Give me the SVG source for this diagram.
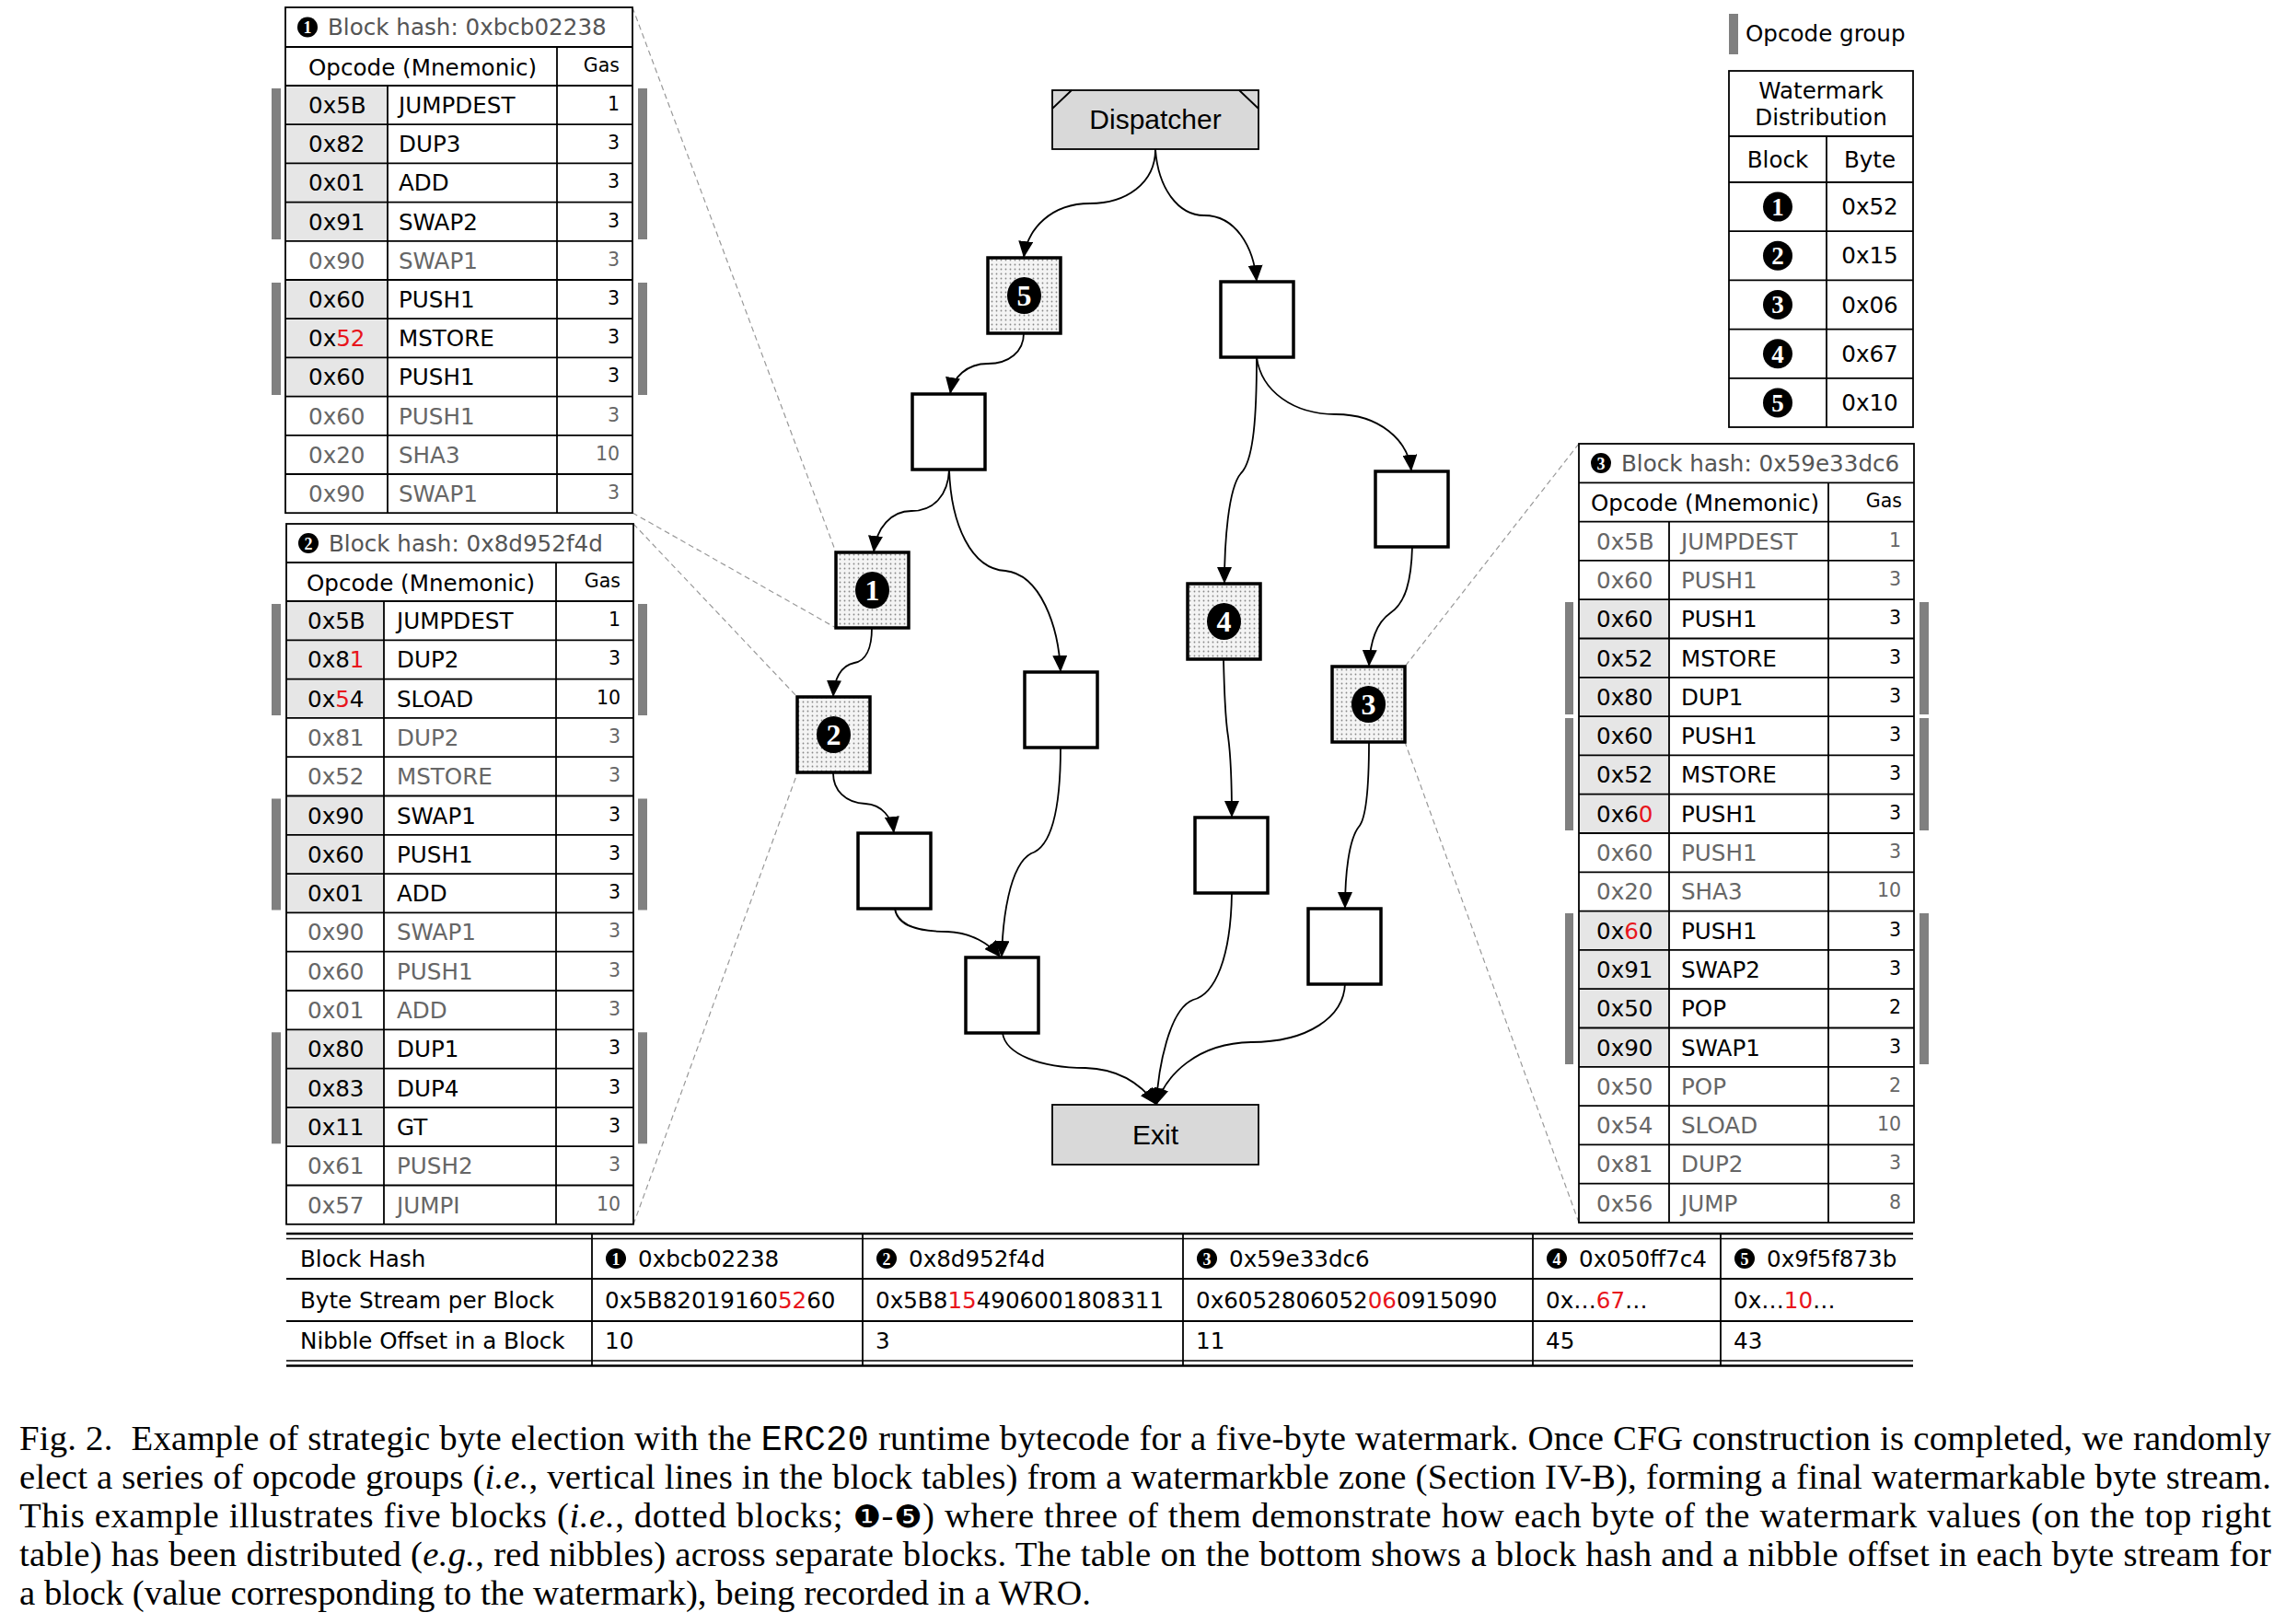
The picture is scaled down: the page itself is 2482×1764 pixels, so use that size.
<svg xmlns="http://www.w3.org/2000/svg" width="2482" height="1764" viewBox="0 0 2482 1764">
<style>
.tx{font-family:"DejaVu Sans",Verdana,sans-serif;font-size:24.6px;fill:#000}
.lt{fill:#666}
.gs{font-size:20.5px;text-anchor:end}
.rd{fill:#e8141b}
.ttl{fill:#555}
.ln{fill:none;stroke:#000;stroke-width:1.8}
.gc{fill:#e6e6e6}
.bar{fill:#808080}
.num{font-family:"Liberation Serif","Times New Roman",serif;font-weight:bold;fill:#fff;text-anchor:middle}
.blk{fill:#000}
.node{fill:#fff;stroke:#000;stroke-width:3.5}
.dnode{fill:url(#dots);stroke:#000;stroke-width:3.5}
.term{fill:#d9d9d9;stroke:#000;stroke-width:1.8}
.lbl{font-family:"Liberation Sans",Arial,sans-serif;font-size:30px;fill:#000;text-anchor:middle}
.edge{fill:none;stroke:#000;stroke-width:1.8;marker-end:url(#ah)}
.zoom{fill:none;stroke:#999;stroke-width:1.2;stroke-dasharray:6 4}
.cap{font-family:"Liberation Serif","Times New Roman",serif;font-size:38.8px;fill:#000}
.mono{font-family:"Liberation Mono","Courier New",monospace}
.it{font-style:italic}
.dg{font-family:"DejaVu Sans",sans-serif;font-size:34px}
.mid{text-anchor:middle}
</style>
<defs>
<pattern id="dots" width="5" height="5" patternUnits="userSpaceOnUse"><rect width="5" height="5" fill="#f4f4f4"/><circle cx="2.5" cy="2.5" r="0.9" fill="#888"/></pattern>
<marker id="ah" markerWidth="18" markerHeight="16" refX="18" refY="8" orient="auto" markerUnits="userSpaceOnUse"><path d="M0,0 L18,8 L0,16 z" fill="#000"/></marker>
</defs>
<rect width="2482" height="1764" fill="#fff"/>

<!-- Connectors -->
<g id="connectors">
<path class="zoom" d="M687,8 L908,600"/>
<path class="zoom" d="M687,557 L908,682"/>
<path class="zoom" d="M688,569 L866,757"/>
<path class="zoom" d="M688,1330 L866,840"/>
<path class="zoom" d="M1715,482 L1526,724"/>
<path class="zoom" d="M1715,1328 L1526,806"/>
<path class="edge" d="M1255,162 C1255,200 1222,221 1184,221 C1142,221 1116,248 1112,280"/>
<path class="edge" d="M1255,162 C1258,205 1280,234 1308,234 C1342,234 1362,268 1365,306"/>
<path class="edge" d="M1112,362 C1112,382 1096,395 1073,395 C1050,395 1035,410 1032,428"/>
<path class="edge" d="M1365,388 C1365,450 1362,500 1348,514 C1334,530 1330,590 1330,634"/>
<path class="edge" d="M1365,388 C1370,425 1405,450 1451,450 C1498,450 1530,478 1533,512"/>
<path class="edge" d="M1031,510 C1030,538 1014,555 990,555 C968,555 952,573 949,600"/>
<path class="edge" d="M1031,510 C1033,570 1055,618 1092,620 C1130,624 1150,680 1152,730"/>
<path class="edge" d="M1534,594 C1533,630 1527,655 1510,666 C1493,678 1488,700 1487,724"/>
<path class="edge" d="M947,682 C947,705 940,718 928,720 C913,723 906,738 905,757"/>
<path class="edge" d="M905,840 C905,858 918,872 940,873 C958,874 969,888 971,905"/>
<path class="edge" d="M1152,812 C1152,880 1142,920 1120,927 C1096,940 1089,1000 1088,1040"/>
<path class="edge" d="M972,987 C975,1005 995,1012 1029,1012 C1055,1013 1075,1025 1087,1040"/>
<path class="edge" d="M1329,716 C1330,760 1332,788 1334,800 C1337,822 1338,860 1338,888"/>
<path class="edge" d="M1487,806 C1487,850 1485,888 1476,898 C1465,912 1461,950 1461,987"/>
<path class="edge" d="M1338,970 C1337,1040 1320,1080 1296,1086 C1270,1096 1258,1160 1256,1200"/>
<path class="edge" d="M1461,1068 C1460,1105 1420,1132 1359,1132 C1300,1133 1266,1168 1256,1200"/>
<path class="edge" d="M1089,1122 C1092,1145 1130,1160 1179,1160 C1215,1161 1240,1178 1256,1200"/>
</g>

<!-- CFG nodes -->
<g id="dispatcher">
<rect class="term" x="1143" y="98" width="224" height="64"/>
<path class="ln" d="M1143,118 L1164,98 M1346,98 L1367,118"/>
<text class="lbl" x="1255" y="140">Dispatcher</text>
</g>
<g id="exit">
<rect class="term" x="1143" y="1200" width="224" height="65"/>
<text class="lbl" x="1255" y="1243">Exit</text>
</g>
<g id="node5"><rect class="dnode" x="1073" y="280" width="79" height="82"/><ellipse class="blk" cx="1112.5" cy="321" rx="18.5" ry="20"/><text class="num" x="1112.5" y="332" font-size="32">5</text></g>
<g id="nodeTR"><rect class="node" x="1326" y="306" width="79" height="82"/></g>
<g id="nodeA"><rect class="node" x="991" y="428" width="79" height="82"/></g>
<g id="node1"><rect class="dnode" x="908" y="600" width="79" height="82"/><ellipse class="blk" cx="947.5" cy="641" rx="18.5" ry="20"/><text class="num" x="947.5" y="652" font-size="32">1</text></g>
<g id="nodeR"><rect class="node" x="1494" y="512" width="79" height="82"/></g>
<g id="node4"><rect class="dnode" x="1290" y="634" width="79" height="82"/><ellipse class="blk" cx="1329.5" cy="675" rx="18.5" ry="20"/><text class="num" x="1329.5" y="686" font-size="32">4</text></g>
<g id="node2"><rect class="dnode" x="866" y="757" width="79" height="82"/><ellipse class="blk" cx="905.5" cy="798" rx="18.5" ry="20"/><text class="num" x="905.5" y="809" font-size="32">2</text></g>
<g id="nodeB"><rect class="node" x="1113" y="730" width="79" height="82"/></g>
<g id="node3"><rect class="dnode" x="1447" y="724" width="79" height="82"/><ellipse class="blk" cx="1486.5" cy="765" rx="18.5" ry="20"/><text class="num" x="1486.5" y="776" font-size="32">3</text></g>
<g id="nodeC"><rect class="node" x="932" y="905" width="79" height="82"/></g>
<g id="nodeD"><rect class="node" x="1298" y="888" width="79" height="82"/></g>
<g id="nodeE"><rect class="node" x="1421" y="987" width="79" height="82"/></g>
<g id="nodeF"><rect class="node" x="1049" y="1040" width="79" height="82"/></g>

<!-- Table 1 -->
<g id="table1">
<rect class="gc" x="310" y="93" width="111" height="168.8"/>
<rect class="gc" x="310" y="304" width="111" height="126.6"/>
<rect class="bar" x="295" y="96" width="10" height="164"/>
<rect class="bar" x="693" y="96" width="10" height="164"/>
<rect class="bar" x="295" y="307" width="10" height="122"/>
<rect class="bar" x="693" y="307" width="10" height="122"/>
<rect class="ln" x="310" y="8" width="377" height="549.2"/>
<path class="ln" d="M310,51H687M310,93H687M310,135.2H687M310,177.4H687M310,219.6H687M310,261.8H687M310,304H687M310,346.2H687M310,388.4H687M310,430.6H687M310,472.8H687M310,515H687M605,51V557.2M421,93V557.2"/>
<circle class="blk" cx="334" cy="29.5" r="11"/><text class="num" x="334" y="36" font-size="18">1</text>
<text class="tx ttl" x="356" y="38">Block hash: 0xbcb02238</text>
<text class="tx" x="335" y="82">Opcode (Mnemonic)</text>
<text class="tx gs" x="673" y="78">Gas</text>
<text class="tx" y="123"><tspan x="335">0x5B</tspan><tspan x="433">JUMPDEST</tspan></text><text class="tx gs" x="673" y="120">1</text>
<text class="tx" y="165.2"><tspan x="335">0x82</tspan><tspan x="433">DUP3</tspan></text><text class="tx gs" x="673" y="162.2">3</text>
<text class="tx" y="207.4"><tspan x="335">0x01</tspan><tspan x="433">ADD</tspan></text><text class="tx gs" x="673" y="204.4">3</text>
<text class="tx" y="249.6"><tspan x="335">0x91</tspan><tspan x="433">SWAP2</tspan></text><text class="tx gs" x="673" y="246.6">3</text>
<text class="tx lt" y="291.8"><tspan x="335">0x90</tspan><tspan x="433">SWAP1</tspan></text><text class="tx gs lt" x="673" y="288.8">3</text>
<text class="tx" y="334"><tspan x="335">0x60</tspan><tspan x="433">PUSH1</tspan></text><text class="tx gs" x="673" y="331">3</text>
<text class="tx" y="376.2"><tspan x="335">0x<tspan class="rd">52</tspan></tspan><tspan x="433">MSTORE</tspan></text><text class="tx gs" x="673" y="373.2">3</text>
<text class="tx" y="418.4"><tspan x="335">0x60</tspan><tspan x="433">PUSH1</tspan></text><text class="tx gs" x="673" y="415.4">3</text>
<text class="tx lt" y="460.6"><tspan x="335">0x60</tspan><tspan x="433">PUSH1</tspan></text><text class="tx gs lt" x="673" y="457.6">3</text>
<text class="tx lt" y="502.8"><tspan x="335">0x20</tspan><tspan x="433">SHA3</tspan></text><text class="tx gs lt" x="673" y="499.8">10</text>
<text class="tx lt" y="545"><tspan x="335">0x90</tspan><tspan x="433">SWAP1</tspan></text><text class="tx gs lt" x="673" y="542">3</text>
</g>

<!-- Table 2 -->
<g id="table2">
<rect class="gc" x="311" y="653" width="106" height="126.9"/>
<rect class="gc" x="311" y="864.5" width="106" height="126.9"/>
<rect class="gc" x="311" y="1118.3" width="106" height="126.9"/>
<rect class="bar" x="295" y="656" width="10" height="121"/>
<rect class="bar" x="693" y="656" width="10" height="121"/>
<rect class="bar" x="295" y="867.5" width="10" height="121"/>
<rect class="bar" x="693" y="867.5" width="10" height="121"/>
<rect class="bar" x="295" y="1121.3" width="10" height="121"/>
<rect class="bar" x="693" y="1121.3" width="10" height="121"/>
<rect class="ln" x="311" y="569" width="377" height="760.8"/>
<path class="ln" d="M311,611H688M311,653H688M311,695.3H688M311,737.6H688M311,779.9H688M311,822.2H688M311,864.5H688M311,906.8H688M311,949.1H688M311,991.4H688M311,1033.7H688M311,1076H688M311,1118.3H688M311,1160.6H688M311,1202.9H688M311,1245.2H688M311,1287.5H688M604,611V1329.8M417,653V1329.8"/>
<circle class="blk" cx="335" cy="590" r="11"/><text class="num" x="335" y="596.5" font-size="18">2</text>
<text class="tx ttl" x="357" y="599">Block hash: 0x8d952f4d</text>
<text class="tx" x="333" y="642">Opcode (Mnemonic)</text>
<text class="tx gs" x="674" y="638">Gas</text>
<text class="tx" y="683"><tspan x="334">0x5B</tspan><tspan x="431">JUMPDEST</tspan></text><text class="tx gs" x="674" y="680">1</text>
<text class="tx" y="725.3"><tspan x="334">0x8<tspan class="rd">1</tspan></tspan><tspan x="431">DUP2</tspan></text><text class="tx gs" x="674" y="722.3">3</text>
<text class="tx" y="767.6"><tspan x="334">0x<tspan class="rd">5</tspan>4</tspan><tspan x="431">SLOAD</tspan></text><text class="tx gs" x="674" y="764.6">10</text>
<text class="tx lt" y="809.9"><tspan x="334">0x81</tspan><tspan x="431">DUP2</tspan></text><text class="tx gs lt" x="674" y="806.9">3</text>
<text class="tx lt" y="852.2"><tspan x="334">0x52</tspan><tspan x="431">MSTORE</tspan></text><text class="tx gs lt" x="674" y="849.2">3</text>
<text class="tx" y="894.5"><tspan x="334">0x90</tspan><tspan x="431">SWAP1</tspan></text><text class="tx gs" x="674" y="891.5">3</text>
<text class="tx" y="936.8"><tspan x="334">0x60</tspan><tspan x="431">PUSH1</tspan></text><text class="tx gs" x="674" y="933.8">3</text>
<text class="tx" y="979.1"><tspan x="334">0x01</tspan><tspan x="431">ADD</tspan></text><text class="tx gs" x="674" y="976.1">3</text>
<text class="tx lt" y="1021.4"><tspan x="334">0x90</tspan><tspan x="431">SWAP1</tspan></text><text class="tx gs lt" x="674" y="1018.4">3</text>
<text class="tx lt" y="1063.7"><tspan x="334">0x60</tspan><tspan x="431">PUSH1</tspan></text><text class="tx gs lt" x="674" y="1060.7">3</text>
<text class="tx lt" y="1106"><tspan x="334">0x01</tspan><tspan x="431">ADD</tspan></text><text class="tx gs lt" x="674" y="1103">3</text>
<text class="tx" y="1148.3"><tspan x="334">0x80</tspan><tspan x="431">DUP1</tspan></text><text class="tx gs" x="674" y="1145.3">3</text>
<text class="tx" y="1190.6"><tspan x="334">0x83</tspan><tspan x="431">DUP4</tspan></text><text class="tx gs" x="674" y="1187.6">3</text>
<text class="tx" y="1232.9"><tspan x="334">0x11</tspan><tspan x="431">GT</tspan></text><text class="tx gs" x="674" y="1229.9">3</text>
<text class="tx lt" y="1275.2"><tspan x="334">0x61</tspan><tspan x="431">PUSH2</tspan></text><text class="tx gs lt" x="674" y="1272.2">3</text>
<text class="tx lt" y="1317.5"><tspan x="334">0x57</tspan><tspan x="431">JUMPI</tspan></text><text class="tx gs lt" x="674" y="1314.5">10</text>
</g>

<!-- Table 3 -->
<g id="table3">
<rect class="gc" x="1715" y="651.2" width="98" height="253.8"/>
<rect class="gc" x="1715" y="989.6" width="98" height="169.2"/>
<rect class="bar" x="1700" y="654" width="9" height="122"/>
<rect class="bar" x="2085" y="654" width="10" height="122"/>
<rect class="bar" x="1700" y="780" width="9" height="122"/>
<rect class="bar" x="2085" y="780" width="10" height="122"/>
<rect class="bar" x="1700" y="992" width="9" height="164"/>
<rect class="bar" x="2085" y="992" width="10" height="164"/>
<rect class="ln" x="1715" y="482" width="364" height="846"/>
<path class="ln" d="M1715,524.4H2079M1715,566.6H2079M1715,608.9H2079M1715,651.2H2079M1715,693.5H2079M1715,735.8H2079M1715,778.1H2079M1715,820.4H2079M1715,862.7H2079M1715,905H2079M1715,947.3H2079M1715,989.6H2079M1715,1031.9H2079M1715,1074.2H2079M1715,1116.5H2079M1715,1158.8H2079M1715,1201.1H2079M1715,1243.4H2079M1715,1285.7H2079M1986,524.4V1328M1813,566.6V1328"/>
<circle class="blk" cx="1739" cy="503" r="11"/><text class="num" x="1739" y="509.5" font-size="18">3</text>
<text class="tx ttl" x="1761" y="512">Block hash: 0x59e33dc6</text>
<text class="tx" x="1728" y="555">Opcode (Mnemonic)</text>
<text class="tx gs" x="2066" y="551">Gas</text>
<text class="tx lt" y="596.6"><tspan x="1734">0x5B</tspan><tspan x="1826">JUMPDEST</tspan></text><text class="tx gs lt" x="2065" y="593.6">1</text>
<text class="tx lt" y="638.9"><tspan x="1734">0x60</tspan><tspan x="1826">PUSH1</tspan></text><text class="tx gs lt" x="2065" y="635.9">3</text>
<text class="tx" y="681.2"><tspan x="1734">0x60</tspan><tspan x="1826">PUSH1</tspan></text><text class="tx gs" x="2065" y="678.2">3</text>
<text class="tx" y="723.5"><tspan x="1734">0x52</tspan><tspan x="1826">MSTORE</tspan></text><text class="tx gs" x="2065" y="720.5">3</text>
<text class="tx" y="765.8"><tspan x="1734">0x80</tspan><tspan x="1826">DUP1</tspan></text><text class="tx gs" x="2065" y="762.8">3</text>
<text class="tx" y="808.1"><tspan x="1734">0x60</tspan><tspan x="1826">PUSH1</tspan></text><text class="tx gs" x="2065" y="805.1">3</text>
<text class="tx" y="850.4"><tspan x="1734">0x52</tspan><tspan x="1826">MSTORE</tspan></text><text class="tx gs" x="2065" y="847.4">3</text>
<text class="tx" y="892.7"><tspan x="1734">0x6<tspan class="rd">0</tspan></tspan><tspan x="1826">PUSH1</tspan></text><text class="tx gs" x="2065" y="889.7">3</text>
<text class="tx lt" y="935"><tspan x="1734">0x60</tspan><tspan x="1826">PUSH1</tspan></text><text class="tx gs lt" x="2065" y="932">3</text>
<text class="tx lt" y="977.3"><tspan x="1734">0x20</tspan><tspan x="1826">SHA3</tspan></text><text class="tx gs lt" x="2065" y="974.3">10</text>
<text class="tx" y="1019.6"><tspan x="1734">0x<tspan class="rd">6</tspan>0</tspan><tspan x="1826">PUSH1</tspan></text><text class="tx gs" x="2065" y="1016.6">3</text>
<text class="tx" y="1061.9"><tspan x="1734">0x91</tspan><tspan x="1826">SWAP2</tspan></text><text class="tx gs" x="2065" y="1058.9">3</text>
<text class="tx" y="1104.2"><tspan x="1734">0x50</tspan><tspan x="1826">POP</tspan></text><text class="tx gs" x="2065" y="1101.2">2</text>
<text class="tx" y="1146.5"><tspan x="1734">0x90</tspan><tspan x="1826">SWAP1</tspan></text><text class="tx gs" x="2065" y="1143.5">3</text>
<text class="tx lt" y="1188.8"><tspan x="1734">0x50</tspan><tspan x="1826">POP</tspan></text><text class="tx gs lt" x="2065" y="1185.8">2</text>
<text class="tx lt" y="1231.1"><tspan x="1734">0x54</tspan><tspan x="1826">SLOAD</tspan></text><text class="tx gs lt" x="2065" y="1228.1">10</text>
<text class="tx lt" y="1273.4"><tspan x="1734">0x81</tspan><tspan x="1826">DUP2</tspan></text><text class="tx gs lt" x="2065" y="1270.4">3</text>
<text class="tx lt" y="1315.7"><tspan x="1734">0x56</tspan><tspan x="1826">JUMP</tspan></text><text class="tx gs lt" x="2065" y="1312.7">8</text>
</g>

<!-- Legend -->
<g id="legend">
<rect class="bar" x="1878" y="15" width="10" height="44"/>
<text class="tx" x="1896" y="45">Opcode group</text>
</g>

<!-- Watermark distribution table -->
<g id="watermark-table">
<rect class="ln" x="1878" y="77" width="200" height="387"/>
<path class="ln" d="M1878,148H2078M1878,198H2078M1878,251.2H2078M1878,304.4H2078M1878,357.6H2078M1878,410.8H2078M1984,148V464"/>
<text class="tx mid" x="1978" y="107">Watermark</text>
<text class="tx mid" x="1978" y="136">Distribution</text>
<text class="tx mid" x="1931" y="182">Block</text>
<text class="tx mid" x="2031" y="182">Byte</text>
<circle class="blk" cx="1931" cy="224.6" r="16"/><text class="num" x="1931" y="234" font-size="27">1</text>
<circle class="blk" cx="1931" cy="277.8" r="16"/><text class="num" x="1931" y="287.2" font-size="27">2</text>
<circle class="blk" cx="1931" cy="331" r="16"/><text class="num" x="1931" y="340.4" font-size="27">3</text>
<circle class="blk" cx="1931" cy="384.2" r="16"/><text class="num" x="1931" y="393.6" font-size="27">4</text>
<circle class="blk" cx="1931" cy="437.4" r="16"/><text class="num" x="1931" y="446.8" font-size="27">5</text>
<text class="tx mid" x="2031" y="233.1">0x52</text>
<text class="tx mid" x="2031" y="286.3">0x15</text>
<text class="tx mid" x="2031" y="339.5">0x06</text>
<text class="tx mid" x="2031" y="392.7">0x67</text>
<text class="tx mid" x="2031" y="445.9">0x10</text>
</g>

<!-- Bottom table -->
<g id="bottom-table">
<path fill="none" stroke="#000" stroke-width="2.6" d="M311,1340H2078M311,1483.5H2078"/>
<path fill="none" stroke="#000" stroke-width="1.5" d="M311,1345.5H2078M311,1478H2078"/>
<path class="ln" d="M311,1389H2078M311,1435H2078M643,1340V1483.5M937,1340V1483.5M1285,1340V1483.5M1665,1340V1483.5M1869,1340V1483.5"/>
<text class="tx" x="326" y="1376">Block Hash</text>
<text class="tx" x="326" y="1421">Byte Stream per Block</text>
<text class="tx" x="326" y="1465">Nibble Offset in a Block</text>
<circle class="blk" cx="669" cy="1367" r="11"/><text class="num" x="669" y="1373.5" font-size="18">1</text>
<text class="tx" x="693" y="1376">0xbcb02238</text>
<circle class="blk" cx="963" cy="1367" r="11"/><text class="num" x="963" y="1373.5" font-size="18">2</text>
<text class="tx" x="987" y="1376">0x8d952f4d</text>
<circle class="blk" cx="1311" cy="1367" r="11"/><text class="num" x="1311" y="1373.5" font-size="18">3</text>
<text class="tx" x="1335" y="1376">0x59e33dc6</text>
<circle class="blk" cx="1691" cy="1367" r="11"/><text class="num" x="1691" y="1373.5" font-size="18">4</text>
<text class="tx" x="1715" y="1376">0x050ff7c4</text>
<circle class="blk" cx="1895" cy="1367" r="11"/><text class="num" x="1895" y="1373.5" font-size="18">5</text>
<text class="tx" x="1919" y="1376">0x9f5f873b</text>
<text class="tx" x="657" y="1421">0x5B82019160<tspan class="rd">52</tspan>60</text>
<text class="tx" x="951" y="1421">0x5B8<tspan class="rd">15</tspan>4906001808311</text>
<text class="tx" x="1299" y="1421">0x6052806052<tspan class="rd">06</tspan>0915090</text>
<text class="tx" x="1679" y="1421">0x…<tspan class="rd">67</tspan>…</text>
<text class="tx" x="1883" y="1421">0x…<tspan class="rd">10</tspan>…</text>
<text class="tx" x="657" y="1465">10</text>
<text class="tx" x="951" y="1465">3</text>
<text class="tx" x="1299" y="1465">11</text>
<text class="tx" x="1679" y="1465">45</text>
<text class="tx" x="1883" y="1465">43</text>
</g>

<!-- Caption -->
<g id="caption">
<text class="cap" x="21" y="1575" textLength="2446" lengthAdjust="spacing">Fig. 2. <tspan dx="10">Example</tspan> of strategic byte election with the <tspan class="mono">ERC20</tspan> runtime bytecode for a five-byte watermark. Once CFG construction is completed, we randomly</text>
<text class="cap" x="21" y="1617" textLength="2446" lengthAdjust="spacing">elect a series of opcode groups (<tspan class="it">i.e.</tspan>, vertical lines in the block tables) from a watermarkble zone (Section IV-B), forming a final watermarkable byte stream.</text>
<text class="cap" x="21" y="1659" textLength="2446" lengthAdjust="spacing">This example illustrates five blocks (<tspan class="it">i.e.</tspan>, dotted blocks; <tspan class="dg">❶</tspan>-<tspan class="dg">❺</tspan>) where three of them demonstrate how each byte of the watermark values (on the top right</text>
<text class="cap" x="21" y="1701" textLength="2446" lengthAdjust="spacing">table) has been distributed (<tspan class="it">e.g.</tspan>, red nibbles) across separate blocks. The table on the bottom shows a block hash and a nibble offset in each byte stream for</text>
<text class="cap" x="21" y="1743">a block (value corresponding to the watermark), being recorded in a WRO.</text>
</g>
</svg>
